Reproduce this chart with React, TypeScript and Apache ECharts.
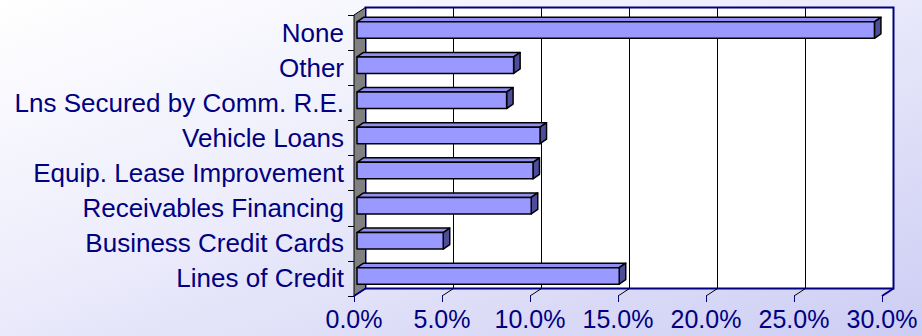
import React, { useEffect, useRef } from 'react';
import * as echarts from 'echarts';

const categories = [
  'None',
  'Other',
  'Lns Secured by Comm. R.E.',
  'Vehicle Loans',
  'Equip. Lease Improvement',
  'Receivables Financing',
  'Business Credit Cards',
  'Lines of Credit',
];
const shares = [29.4, 8.9, 8.5, 10.4, 10.0, 9.9, 4.9, 14.9];
const xTicks = [0, 5, 10, 15, 20, 25, 30];

const WALL_DX = 11.5;
const WALL_DY = -7.5;
const BAR_DX = 3;
const BAR_DY = -2.5;
const DEPTH_DX = 6.5;
const DEPTH_DY = -4.5;
const NAVY = '#000080';

export default function App() {
  const ref = useRef<HTMLDivElement>(null);
  useEffect(() => {
    if (!ref.current) return;
    const chart = echarts.init(ref.current, null, { renderer: 'svg' });

    const decor = (params: any, api: any) => {
      if (params.dataIndex !== 0) return null;
      const cs = params.coordSys;
      const gx = cs.x, gy = cs.y, gw = cs.width, gh = cs.height;
      const children: any[] = [];
      children.push({
        type: 'rect',
        shape: { x: gx + WALL_DX, y: gy + WALL_DY, width: gw, height: gh },
        style: { fill: '#ffffff', stroke: null },
      });
      xTicks.slice(1, -1).forEach((v) => {
        const x = api.coord([v, 0])[0] + WALL_DX;
        children.push({
          type: 'line',
          shape: { x1: x, y1: gy + WALL_DY, x2: x, y2: gy + gh + WALL_DY },
          style: { stroke: '#000000', lineWidth: 1 },
        });
      });
      children.push({
        type: 'rect',
        shape: { x: gx + WALL_DX, y: gy + WALL_DY, width: gw, height: gh },
        style: { fill: null, stroke: NAVY, lineWidth: 2 },
      });
      children.push({
        type: 'polygon',
        shape: {
          points: [
            [gx, gy],
            [gx + WALL_DX, gy + WALL_DY],
            [gx + WALL_DX, gy + gh + WALL_DY],
            [gx, gy + gh],
          ],
        },
        style: { fill: '#808080', stroke: '#000000', lineWidth: 1 },
      });
      xTicks.forEach((v, i) => {
        const x = api.coord([v, 0])[0];
        const edge = i === 0 || i === xTicks.length - 1;
        children.push({
          type: 'line',
          shape: { x1: x, y1: gy + gh, x2: x + WALL_DX, y2: gy + gh + WALL_DY },
          style: { stroke: edge ? NAVY : '#000000', lineWidth: edge ? 2 : 1 },
        });
      });
      return { type: 'group', children };
    };

    const bar3d = (params: any, api: any) => {
      const v = api.value(0);
      const idx = api.value(1);
      const end = api.coord([v, idx]);
      const start = api.coord([0, idx]);
      const band = api.size([0, 1])[1];
      const h = band * 0.47;
      const xl = start[0] + BAR_DX;
      const xr = end[0] + BAR_DX;
      const yt = end[1] + BAR_DY - h / 2;
      const yb = yt + h;
      const stroke = { stroke: '#000000', lineWidth: 1.5, lineJoin: 'round' };
      return {
        type: 'group',
        children: [
          {
            type: 'polygon',
            shape: {
              points: [
                [xl, yt],
                [xl + DEPTH_DX, yt + DEPTH_DY],
                [xr + DEPTH_DX, yt + DEPTH_DY],
                [xr, yt],
              ],
            },
            style: { fill: '#8f8ff0', ...stroke },
          },
          {
            type: 'polygon',
            shape: {
              points: [
                [xr, yt],
                [xr + DEPTH_DX, yt + DEPTH_DY],
                [xr + DEPTH_DX, yb + DEPTH_DY],
                [xr, yb],
              ],
            },
            style: { fill: '#4d4d99', ...stroke },
          },
          {
            type: 'rect',
            shape: { x: xl, y: yt, width: xr - xl, height: h },
            style: { fill: '#9999ff', ...stroke },
          },
        ],
      };
    };

    chart.setOption({
      animation: false,
      backgroundColor: 'transparent',
      grid: { left: 354, right: 40, top: 15, bottom: 40 },
      xAxis: {
        type: 'value',
        min: 0,
        max: 30,
        interval: 5,
        axisLine: { show: false },
        splitLine: { show: false },
        axisTick: { show: true, length: 6, lineStyle: { color: NAVY, width: 1 } },
        axisLabel: {
          margin: 10,
          color: NAVY,
          fontSize: 25,
          fontFamily: 'Liberation Sans, Arial, sans-serif',
          formatter: (v: number) => v.toFixed(1) + '%',
        },
      },
      yAxis: {
        type: 'category',
        data: categories,
        inverse: true,
        axisLine: { show: false },
        axisTick: { show: true, length: 6, lineStyle: { color: '#000000', width: 1 } },
        axisLabel: {
          margin: 10,
          color: NAVY,
          fontSize: 26,
          fontFamily: 'Liberation Sans, Arial, sans-serif',
        },
      },
      series: [
        {
          type: 'custom',
          renderItem: decor,
          data: [[0, 0]],
          encode: { x: 0, y: 1 },
          clip: false,
          silent: true,
          z: 1,
        },
        {
          type: 'custom',
          renderItem: bar3d,
          data: shares.map((v, i) => [v, i]),
          encode: { x: 0, y: 1 },
          clip: false,
          z: 2,
        },
      ],
    });
    return () => chart.dispose();
  }, []);

  return (
    <div
      style={{
        position: 'absolute',
        left: 0,
        top: 0,
        width: 922,
        height: 336,
        background: 'linear-gradient(160deg, #ffffff 0%, #eeeefc 40%, #cdcdf4 100%)',
      }}
    >
      <div ref={ref} style={{ width: 922, height: 336 }} />
    </div>
  );
}
